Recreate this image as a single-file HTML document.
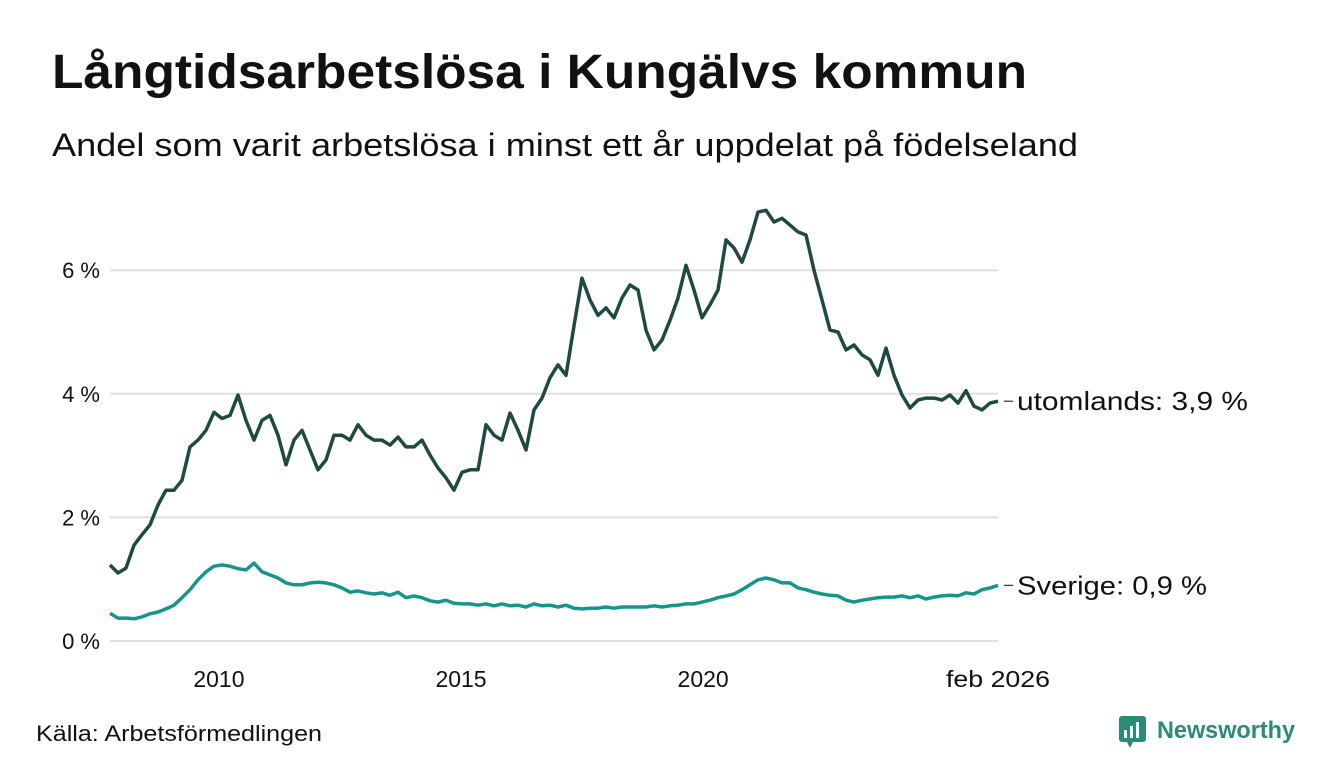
<!DOCTYPE html>
<html><head><meta charset="utf-8"><style>
body{margin:0;background:#fff;width:1340px;height:780px;overflow:hidden;font-family:"Liberation Sans",sans-serif;}
</style></head><body>
<svg width="1340" height="780" style="position:absolute;left:0;top:0">
<text x="52" y="88" font-size="48" font-weight="bold" fill="#111" textLength="975" lengthAdjust="spacingAndGlyphs">Långtidsarbetslösa i Kungälvs kommun</text>
<text x="52" y="156" font-size="32" fill="#111" textLength="1026" lengthAdjust="spacingAndGlyphs">Andel som varit arbetslösa i minst ett år uppdelat på födelseland</text>
<g id="grid"></g><g id="xt"></g><g id="lines"></g>
<text x="36" y="741" font-size="22" fill="#111" textLength="286" lengthAdjust="spacingAndGlyphs">Källa: Arbetsförmedlingen</text>
<g>
<rect x="1119" y="716" width="27" height="26" rx="3" fill="#2b8a78"/>
<polygon points="1127,742 1133,742 1130,748" fill="#2b8a78"/>
<rect x="1124" y="730" width="3" height="8" fill="#fff"/><rect x="1130" y="726" width="3" height="12" fill="#fff"/><rect x="1136" y="722" width="3" height="16" fill="#fff"/>
<text x="1157" y="738" font-size="24" font-weight="bold" fill="#2b8a78" textLength="138" lengthAdjust="spacingAndGlyphs">Newsworthy</text>
</g>
</svg>
<script>
const startYear=2007.75, endYear=2026.09;
const yTicks=[0,2,4,6];
const xTickYears=[2010,2015,2020];
const xTickLabels=["2010","2015","2020"];
const utomlands=[1.23,1.10,1.18,1.55,1.72,1.88,2.2,2.44,2.44,2.6,3.14,3.25,3.41,3.7,3.6,3.65,3.98,3.57,3.25,3.57,3.65,3.33,2.85,3.25,3.41,3.09,2.77,2.93,3.33,3.33,3.25,3.5,3.33,3.25,3.25,3.17,3.3,3.14,3.14,3.25,3.01,2.8,2.64,2.44,2.73,2.77,2.77,3.5,3.33,3.25,3.69,3.41,3.09,3.74,3.93,4.26,4.47,4.3,5.1,5.87,5.52,5.27,5.39,5.23,5.55,5.76,5.68,5.03,4.71,4.87,5.19,5.55,6.08,5.68,5.23,5.44,5.68,6.49,6.36,6.13,6.49,6.94,6.97,6.78,6.84,6.73,6.62,6.57,6.0,5.52,5.03,5.0,4.71,4.79,4.63,4.55,4.3,4.74,4.3,3.98,3.77,3.9,3.93,3.93,3.9,3.98,3.85,4.05,3.8,3.74,3.85,3.88];
const sverige=[0.45,0.37,0.37,0.36,0.39,0.44,0.47,0.52,0.58,0.7,0.83,0.99,1.12,1.21,1.23,1.21,1.17,1.15,1.26,1.12,1.07,1.02,0.94,0.91,0.91,0.94,0.95,0.94,0.91,0.86,0.79,0.81,0.78,0.76,0.78,0.74,0.79,0.7,0.73,0.7,0.65,0.63,0.66,0.61,0.6,0.6,0.58,0.6,0.57,0.6,0.57,0.58,0.55,0.6,0.57,0.58,0.55,0.58,0.53,0.52,0.53,0.53,0.55,0.53,0.55,0.55,0.55,0.55,0.57,0.55,0.57,0.58,0.6,0.6,0.63,0.66,0.7,0.73,0.76,0.83,0.91,0.99,1.02,0.99,0.94,0.94,0.86,0.83,0.79,0.76,0.74,0.73,0.66,0.63,0.66,0.68,0.7,0.71,0.71,0.73,0.7,0.73,0.68,0.71,0.73,0.74,0.73,0.78,0.76,0.83,0.86,0.9];
const ns="http://www.w3.org/2000/svg";
const X0=110,X1=998,Y0=641,PER=61.8;
const xs=t=>X0+(t-startYear)/(endYear-startYear)*(X1-X0);
const ys=v=>Y0-v*PER;
function mk(tag,attrs,parent){const e=document.createElementNS(ns,tag);for(const k in attrs)e.setAttribute(k,attrs[k]);parent.appendChild(e);return e;}
const grid=document.getElementById('grid');
yTicks.forEach(v=>{
 const l=mk('line',{x1:X0,x2:X1,y1:ys(v),y2:ys(v),stroke:'#dfdfe5','stroke-width':2},grid);
 
 
 const t=mk('text',{x:100,y:ys(v)+8,'text-anchor':'end','font-size':22,fill:'#111'},grid);
 t.textContent=v+' %';
 
 
});
const xt=document.getElementById('xt');
xTickYears.forEach((y,i)=>{
 const t=mk('text',{x:xs(y),y:687,'text-anchor':'middle','font-size':23,fill:'#111'},xt);
 t.textContent=xTickLabels[i];
 
 
});
const lt=mk('text',{x:X1,y:687,'text-anchor':'middle','font-size':23,fill:'#111',textLength:104,lengthAdjust:'spacingAndGlyphs'},xt);
lt.textContent='feb 2026';


const lines=document.getElementById('lines');
function draw(arr,color,name,label,w){
 const n=arr.length;
 const pts=arr.map((v,i)=>xs(startYear+i*(endYear-startYear)/(n-1)).toFixed(1)+','+ys(v).toFixed(1)).join(' ');
 const p=mk('polyline',{points:pts,fill:'none',stroke:color,'stroke-width':3.5,'stroke-linejoin':'round'},lines);
 
 
 const yl=ys(arr[n-1]);
 mk('line',{x1:1004,x2:1013,y1:yl,y2:yl,stroke:'#333','stroke-width':1.2},lines);
 const t=mk('text',{x:1017,y:yl+9,'font-size':26,fill:'#111',textLength:w,lengthAdjust:'spacingAndGlyphs'},lines);
 t.textContent=label;
 
 
}
draw(sverige,'#16968a','sverige','Sverige: 0,9 %',190);
draw(utomlands,'#1f4a44','utomlands','utomlands: 3,9 %',231);
</script>
</body></html>
